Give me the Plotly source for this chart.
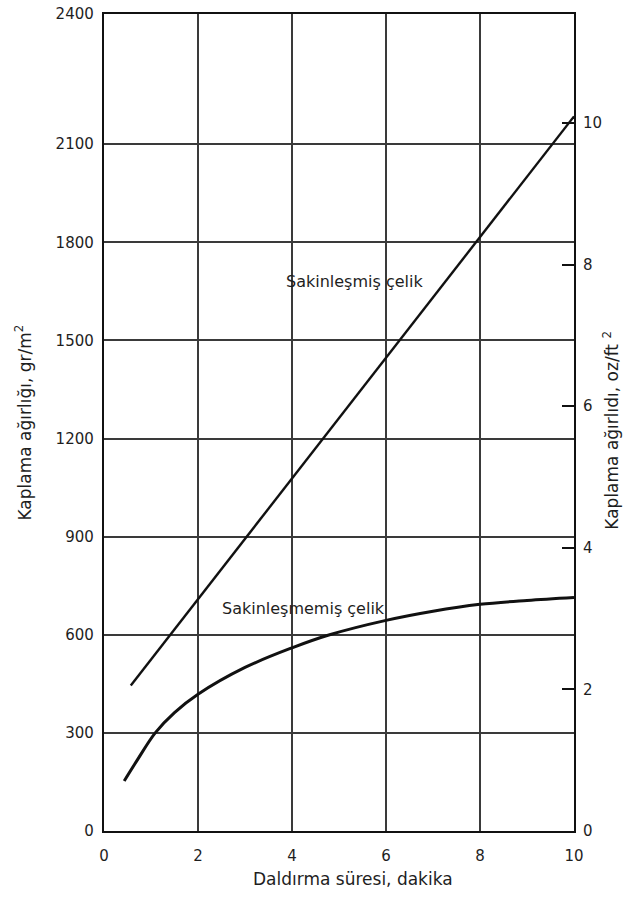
import plotly.graph_objects as go

# ---- data ----
# Sakinleşmiş çelik (straight line)
killed_x = [0.57, 4.64, 10.0]
killed_y = [445, 1195, 2185]
# Sakinleşmemiş çelik (curve)
rimmed_x = [0.43, 0.7, 1.09, 1.5, 2.0, 3.0, 4.0, 4.8, 6.0, 7.0, 8.0, 9.0, 10.0]
rimmed_y = [153, 215, 300, 362, 418, 500, 560, 600, 644, 672, 693, 705, 714]

x_ticks = [0, 2, 4, 6, 8, 10]
left_ticks = [0, 300, 600, 900, 1200, 1500, 1800, 2100]
left_top = 2498          # frame top of the (unevenly printed) left scale
left_top_label = "2400"  # label printed at the frame top
right_ticks = [0, 2, 4, 6, 8, 10]
right_top = 11.54

label_killed = ("Sakinleşmiş çelik", 5.32, 1681)
label_rimmed = ("Sakinleşmemiş çelik", 4.25, 680)

FONT = "DejaVu Sans"
INK = "#111111"
GRID = "#3a3a3a"
TXT = "#1e1e1e"

fig = go.Figure()
fig.add_trace(go.Scatter(x=killed_x, y=killed_y, mode="lines",
                         line=dict(color=INK, width=2.4), showlegend=False))
fig.add_trace(go.Scatter(x=rimmed_x, y=rimmed_y, mode="lines",
                         line=dict(color=INK, width=3, shape="spline"),
                         showlegend=False))
# placeholder so the right axis is drawn
fig.add_trace(go.Scatter(x=[None], y=[None], yaxis="y2", showlegend=False))

for txt, lx, ly in (label_killed, label_rimmed):
    fig.add_annotation(x=lx, y=ly, text=txt, showarrow=False,
                       font=dict(family=FONT, size=16, color=TXT))

# axis titles
fig.add_annotation(xref="paper", yref="paper", x=0, y=0.5, xshift=-94,
                   text="Kaplama ağırlığı, gr/m<sup>2</sup>", textangle=-90,
                   showarrow=False, font=dict(family=FONT, size=17, color=TXT))
fig.add_annotation(xref="paper", yref="paper", x=1, y=0.49, xshift=50,
                   text="Kaplama ağırlıdı, oz/ft <sup>2</sup>", textangle=-90,
                   showarrow=False, font=dict(family=FONT, size=17, color=TXT))
fig.add_annotation(xref="paper", yref="paper", x=0.53, y=0, yshift=-48,
                   yanchor="middle",
                   text="Daldırma süresi, dakika",
                   showarrow=False, font=dict(family=FONT, size=17, color=TXT))

fig.update_layout(
    width=629, height=898,
    margin=dict(l=104, r=55, t=14, b=67),
    paper_bgcolor="white", plot_bgcolor="white",
    font=dict(family=FONT, size=15, color=TXT),
    xaxis=dict(range=[0, 10], tickvals=x_ticks, ticks="",
               showgrid=True, gridcolor=GRID, gridwidth=1.6,
               showline=True, linecolor=INK, linewidth=2.4, mirror=True,
               zeroline=False, ticklabelstandoff=10, automargin=False,
               tickfont=dict(family=FONT, size=15, color=TXT)),
    yaxis=dict(range=[0, left_top],
               tickvals=left_ticks + [left_top],
               ticktext=[str(v) for v in left_ticks] + [left_top_label],
               ticks="", showgrid=True, gridcolor=GRID, gridwidth=1.6,
               showline=True, linecolor=INK, linewidth=2.4, mirror=True,
               zeroline=False, ticklabelstandoff=5, automargin=False,
               tickfont=dict(family=FONT, size=15, color=TXT)),
    yaxis2=dict(range=[0, right_top], tickvals=right_ticks,
                overlaying="y", side="right", anchor="x",
                ticks="inside", ticklen=12, tickwidth=2, tickcolor=INK,
                showgrid=False, showline=False, zeroline=False,
                ticklabelstandoff=8, automargin=False,
                tickfont=dict(family=FONT, size=15, color=TXT)),
)

fig.write_html("out.html")
